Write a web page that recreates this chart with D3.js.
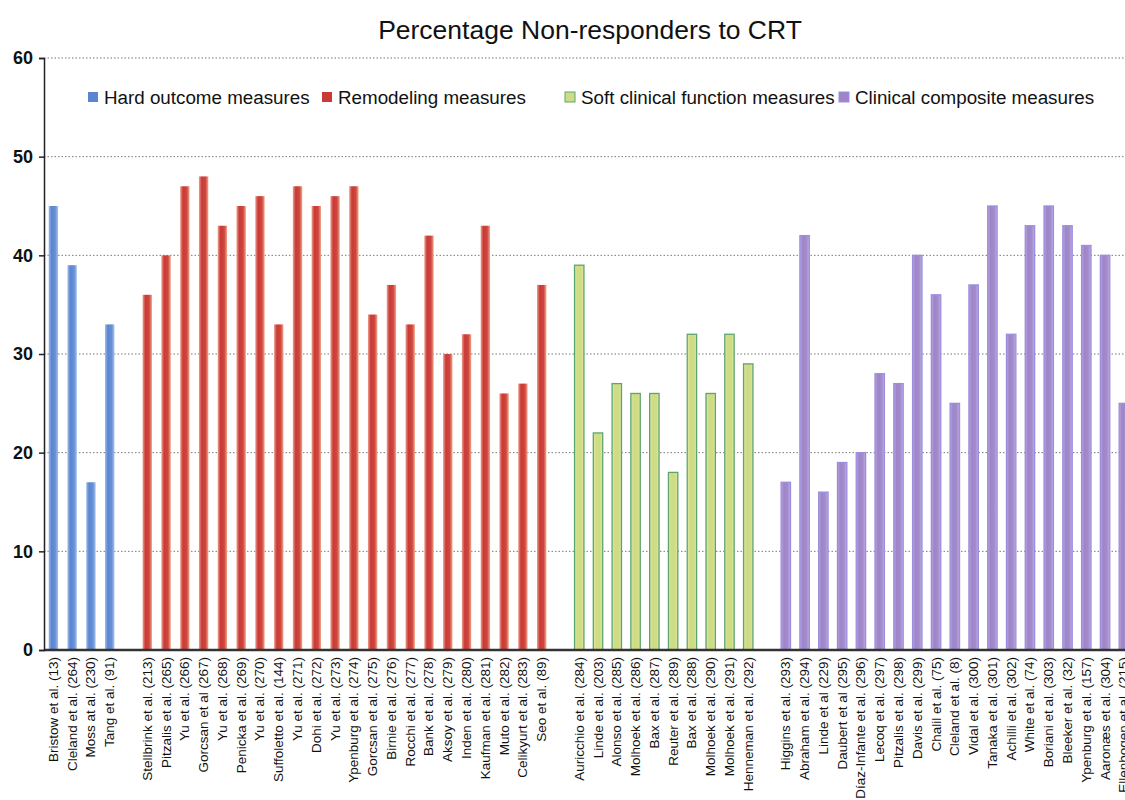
<!DOCTYPE html>
<html>
<head>
<meta charset="utf-8">
<script src="https://cdn.jsdelivr.net/npm/d3@7"></script>
<style>
  body { margin: 0; background: #fff; }
  svg { font-family: "Liberation Sans", Arial, sans-serif; }
  .grid line { stroke: #777; stroke-dasharray: 1.5, 2; }
  .x.axis text { font-size: 13.5px; fill: #111; }
  .y.axis text { font-size: 18px; fill: #111; }
</style>
</head>
<body>
<script>
// Groups of studies
const groupNames = ['Hard outcome measures', 'Remodeling measures', 'Soft clinical function measures', 'Clinical composite measures'];

const hardLabels = ['Bristow et al. (13)', 'Cleland et al. (264)', 'Moss at al. (230)', 'Tang et al. (91)'];
const hardValues = [45, 39, 17, 33];

const remodelingLabels = ['Stellbrink et al. (213)', 'Pitzalis et al. (265)', 'Yu et al. (266)', 'Gorcsan et al (267)',
  'Yu et al. (268)', 'Penicka et al. (269)', 'Yu et al. (270)', 'Suffoletto et al. (144)', 'Yu et al. (271)',
  'Dohi et al. (272)', 'Yu et al. (273)', 'Ypenburg et al. (274)', 'Gorcsan et al. (275)', 'Birnie et al. (276)',
  'Rocchi et al. (277)', 'Bank et al. (278)', 'Aksoy et al. (279)', 'Inden et al. (280)', 'Kaufman et al. (281)',
  'Muto et al. (282)', 'Celikyurt et al. (283)', 'Seo et al. (89)'];
const remodelingValues = [36, 40, 47, 48, 43, 45, 46, 33, 47, 45, 46, 47, 34, 37, 33, 42, 30, 32, 43, 26, 27, 37];

const softLabels = ['Auricchio et al. (284)', 'Linde et al. (203)', 'Alonso et al. (285)', 'Molhoek et al. (286)',
  'Bax et al. (287)', 'Reuter et al. (289)', 'Bax et al. (288)', 'Molhoek et al. (290)', 'Molhoek et al. (291)',
  'Henneman et al. (292)'];
const softValues = [39, 22, 27, 26, 26, 18, 32, 26, 32, 29];

const compositeLabels = ['Higgins et al. (293)', 'Abraham et al. (294)', 'Linde et al (229)', 'Daubert et al (295)',
  'Díaz-Infante et al. (296)', 'Lecoq et al. (297)', 'Pitzalis et al. (298)', 'Davis et al. (299)', 'Chalil et al. (75)',
  'Cleland et al. (8)', 'Vidal et al. (300)', 'Tanaka et al. (301)', 'Achilli et al. (302)', 'White et al. (74)',
  'Boriani et al. (303)', 'Bleeker et al. (32)', 'Ypenburg et al. (157)', 'Aaronæs et al. (304)', 'Ellenbogen et al. (215)'];
const compositeValues = [17, 42, 16, 19, 20, 28, 27, 40, 36, 25, 37, 45, 32, 43, 45, 43, 41, 40, 25];

const yTicks = [0, 10, 20, 30, 40, 50, 60];

// Build slots (with one empty slot between groups)
const groups = [
  [hardLabels, hardValues],
  [remodelingLabels, remodelingValues],
  [softLabels, softValues],
  [compositeLabels, compositeValues]
];

let slots = [];
groups.forEach(([labels, values], g) => {
  if (g > 0) slots.push({ key: 'gap' + g, label: '', value: null, group: -1 });
  labels.forEach((l, i) => slots.push({ key: g + '_' + i, label: l, value: values[i], group: g }));
});

const width = 1125;
const height = 800;
const margin = { top: 58, left: 44 };
const slotW = 18.78;

const svg = d3.select('body')
  .append('svg')
  .attr('width', width)
  .attr('height', height);

const x = d3.scaleBand()
  .domain(slots.map(d => d.key))
  .range([margin.left, margin.left + slots.length * slotW])
  .paddingInner(0.5)
  .paddingOuter(0.25);

const y = d3.scaleLinear()
  .domain([0, 60])
  .range([650, margin.top]);

// gradients
const defs = svg.append('defs');
const styles = [
  { fill: ['#9dbbe9', '#5b85d0', '#6690d6', '#a9c3ec'], stroke: 'none' },
  { fill: ['#eda08f', '#c93a35', '#cf4640', '#f1a98a'], stroke: 'none' },
  { fill: ['#dfe8a0', '#cfdc86', '#cfdc86', '#dfe8a0'], stroke: '#5da56f' },
  { fill: ['#b9a6dc', '#9d85c8', '#a38cce', '#c0b0e2'], stroke: '#9b8ee0' }
];
styles.forEach((s, i) => {
  const lg = defs.append('linearGradient').attr('id', 'grad' + i).attr('x1', 0).attr('x2', 1).attr('y1', 0).attr('y2', 0);
  [0, 0.3, 0.7, 1].forEach((o, j) => lg.append('stop').attr('offset', o).attr('stop-color', s.fill[j]));
});

// gridlines
svg.append('g')
  .attr('class', 'grid')
  .selectAll('line')
  .data(yTicks.filter(t => t > 0))
  .enter()
  .append('line')
  .attr('x1', margin.left)
  .attr('x2', width)
  .attr('y1', d => y(d))
  .attr('y2', d => y(d));

// bars
svg.selectAll('rect.bar')
  .data(slots.filter(d => d.value !== null))
  .enter()
  .append('rect')
  .attr('class', 'bar')
  .attr('x', d => x(d.key))
  .attr('width', x.bandwidth())
  .attr('y', d => y(d.value))
  .attr('height', d => y(0) - y(d.value))
  .attr('fill', d => `url(#grad${d.group})`)
  .attr('stroke', d => styles[d.group].stroke)
  .attr('stroke-width', 1.3);

// x axis
const xAxis = d3.axisBottom(x)
  .tickSize(0)
  .tickFormat(k => slots.find(s => s.key === k).label);

svg.append('g')
  .attr('class', 'x axis')
  .attr('transform', `translate(0, ${y(0)})`)
  .call(xAxis)
  .call(g => g.select('.domain').attr('stroke', '#333').attr('stroke-width', 2.5).attr('d', `M${margin.left},0H${width}`))
  .selectAll('text')
  .attr('transform', 'rotate(-90)')
  .attr('text-anchor', 'end')
  .attr('dominant-baseline', 'central')
  .attr('x', -7)
  .attr('y', 0)
  .attr('dy', null);

// y axis
const yAxis = d3.axisLeft(y)
  .tickValues(yTicks)
  .tickSize(5)
  .tickPadding(6);

svg.append('g')
  .attr('class', 'y axis')
  .attr('transform', `translate(${margin.left}, 0)`)
  .call(yAxis)
  .call(g => g.select('.domain').attr('stroke', '#222').attr('stroke-width', 1.5))
  .call(g => g.selectAll('.tick line').attr('stroke', '#222').attr('stroke-width', 1.5))
  .selectAll('text')
  .attr('font-weight', 'bold')
  .attr('fill', '#222');

// legend
const legendX = [88, 322, 565, 839];
const legend = svg.append('g')
  .selectAll('g')
  .data(groupNames)
  .enter()
  .append('g')
  .attr('transform', (d, i) => `translate(${legendX[i]}, 97)`);

legend.append('rect')
  .attr('x', 0)
  .attr('y', -5)
  .attr('width', 10)
  .attr('height', 10)
  .attr('fill', (d, i) => styles[i].fill[1])
  .attr('stroke', (d, i) => styles[i].stroke)
  .attr('stroke-width', 1);

legend.append('text')
  .text(d => d)
  .attr('x', 16)
  .attr('y', 0)
  .attr('dominant-baseline', 'central')
  .attr('font-size', '18.8px')
  .attr('fill', '#111');

// title
svg.append('text')
  .text('Percentage Non-responders to CRT')
  .attr('x', 590)
  .attr('y', 39)
  .attr('text-anchor', 'middle')
  .attr('font-size', '26.5px')
  .attr('fill', '#111');
</script>
</body>
</html>
